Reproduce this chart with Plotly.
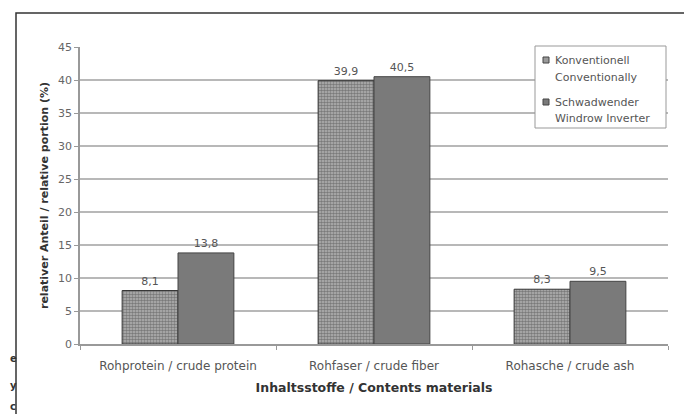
import plotly.graph_objects as go

categories = ["Rohprotein / crude protein", "Rohfaser / crude fiber", "Rohasche / crude ash"]
konv_values = [8.1, 39.9, 8.3]
schwad_values = [13.8, 40.5, 9.5]
konv_labels = ["8,1", "39,9", "8,3"]
schwad_labels = ["13,8", "40,5", "9,5"]
legend_lines = [["Konventionell", "Conventionally"], ["Schwadwender", "Windrow Inverter"]]
y_ticks = [0, 5, 10, 15, 20, 25, 30, 35, 40, 45]

FONT = "DejaVu Sans, Arial, sans-serif"
W, H = 684, 406
ML, MR, MT, MB = 72, 24, 39, 70
PW, PH = W - ML - MR, H - MT - MB


def px(fx):
    return (fx - ML) / PW


def py(fy):
    return (H - MB - fy) / PH


fig = go.Figure()
fig.add_trace(go.Bar(
    x=categories, y=konv_values, name=" ".join(legend_lines[0]),
    text=konv_labels, textposition="outside", cliponaxis=False,
    textfont=dict(size=11, color="#555555", family=FONT),
    marker=dict(color="#a0a0a0", line=dict(color="#333333", width=1),
                pattern=dict(shape=".", fgcolor="#3f3f3f", bgcolor="#b4b4b4", size=3, solidity=0.55)),
))
fig.add_trace(go.Bar(
    x=categories, y=schwad_values, name=" ".join(legend_lines[1]),
    text=schwad_labels, textposition="outside", cliponaxis=False,
    textfont=dict(size=11, color="#555555", family=FONT),
    marker=dict(color="#7a7a7a", line=dict(color="#444444", width=1)),
))

fig.update_layout(
    width=W, height=H,
    margin=dict(l=ML, r=MR, t=MT, b=MB),
    paper_bgcolor="white", plot_bgcolor="white",
    barmode="group", bargap=0.43, bargroupgap=0,
    font=dict(family=FONT, size=11, color="#555555"),
    showlegend=False,
    xaxis=dict(showline=True, linecolor="#999999", linewidth=1.5,
               ticks="outside", tickson="boundaries", ticklen=4, tickcolor="#999999",
               ticklabelstandoff=10,
               tickfont=dict(size=12, color="#555555"),
               title=dict(text="<b>Inhaltsstoffe / Contents materials</b>",
                          font=dict(size=12.5, color="#333333"), standoff=11)),
    yaxis=dict(range=[0, 45], tickvals=y_ticks, showline=True, linecolor="#999999",
               linewidth=1.5, ticks="outside", ticklen=4, tickcolor="#999999",
               showgrid=True, gridcolor="#b8b8b8", gridwidth=1.5,
               tickfont=dict(size=11, color="#666666"),
               title=dict(text="<b>relativer Anteil / relative portion (%)</b>",
                          font=dict(size=11, color="#333333"), standoff=7)),
)

# outer frame of the scanned figure
fig.add_shape(type="rect", xref="paper", yref="paper",
              x0=px(8), x1=px(680), y0=py(H + 20), y1=py(5),
              line=dict(color="#333333", width=1.5), fillcolor="rgba(0,0,0,0)", layer="below")

# legend box (custom, to match the original layout)
fig.add_shape(type="rect", xref="paper", yref="paper",
              x0=px(527), x1=px(658), y0=py(120), y1=py(38),
              line=dict(color="#999999", width=1), fillcolor="white", layer="above")
swatches = [("#9a9a9a", 49), ("#7a7a7a", 91)]
for (col, top) in swatches:
    fig.add_shape(type="rect", xref="paper", yref="paper",
                  x0=px(535), x1=px(541), y0=py(top + 6), y1=py(top),
                  line=dict(color="#444444", width=1), fillcolor=col, layer="above")
line_ys = [[52, 69], [94, 110]]
for lines, ys in zip(legend_lines, line_ys):
    for t, fy in zip(lines, ys):
        fig.add_annotation(xref="paper", yref="paper", x=px(545), y=py(fy), text=t,
                           showarrow=False, xanchor="left", yanchor="middle",
                           font=dict(size=11, color="#555555", family=FONT))

# fragments of text from the neighbouring column of the scan
for letter, fy in [("e", 350), ("y", 377), ("c", 398)]:
    fig.add_annotation(xref="paper", yref="paper", x=px(0), y=py(fy),
                       text="<b>" + letter + "</b>", showarrow=False, xanchor="left",
                       yanchor="middle", font=dict(size=10, color="#333333", family=FONT))

fig.write_html("out.html")
